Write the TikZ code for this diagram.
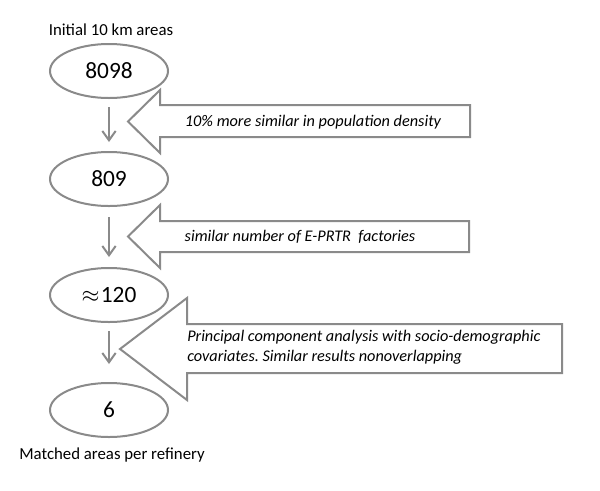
\documentclass[tikz,border=0pt]{standalone}
\usepackage{fontspec}
\setmainfont{Carlito}
\frenchspacing
\usetikzlibrary{arrows.meta,shapes.geometric}
\definecolor{lg}{HTML}{8A8A8A}
\tikzset{
  oval/.style={ellipse,draw=lg,line width=1.5pt,minimum width=88.5pt,minimum height=40.5pt,inner sep=0pt,font=\fontsize{17.5}{20}\selectfont},
  blockarrow/.style={draw=lg,line width=1.5pt,fill=white,line join=miter},
  downarrow/.style={draw=lg,line width=1.5pt,-{Straight Barb[length=7pt,width=10pt,line width=1.5pt]}},
  lbl/.style={font=\fontsize{12.6}{14}\selectfont,inner sep=0pt},
  albl/.style={font=\fontsize{12.2}{15}\selectfont\itshape,inner sep=0pt}
}
\begin{document}
\begin{tikzpicture}[x=0.75pt,y=-0.75pt]
\useasboundingbox (0,0) rectangle (600,490);
% block arrows
\draw[blockarrow] (128,121.5) -- (160,90) -- (160,105) -- (470,105) -- (470,137) -- (160,137) -- (160,153) -- cycle;
\draw[blockarrow] (128,236.5) -- (160,205) -- (160,221) -- (469,221) -- (469,252) -- (160,252) -- (160,268) -- cycle;
\draw[blockarrow] (120,349) -- (187,298) -- (187,324) -- (562,324) -- (562,373) -- (187,373) -- (187,400) -- cycle;
% ovals
\node[oval] (e1) at (109,71) {8098};
\node[oval] (e2) at (109,179) {809};
\node[oval] (e3) at (109,295) {$\approx$\kern1pt 120};
\node[oval] (e4) at (109,410) {6};
% labels
\node[lbl] (top) at (111,30) {Initial 10 km areas};
\node[lbl] (bot) at (112,455) {Matched areas per refinery};
\node[albl] (t1) at (313,122) {10\% more similar in population density};
\node[albl] (t2) at (300,237) {similar number of E-PRTR\ \ factories};
\node[albl,align=left,anchor=west] (t3) at (187,347) {Principal component analysis with socio-demographic\\covariates. Similar results nonoverlapping};
% down arrows
\draw[downarrow,shorten <=6pt,shorten >=6.75pt] (e1) -- (e2);
\draw[downarrow,shorten <=7.5pt,shorten >=7.5pt] (e2) -- (e3);
\draw[downarrow,shorten <=6pt,shorten >=13.5pt] (e3) -- (e4);
\end{tikzpicture}
\end{document}
